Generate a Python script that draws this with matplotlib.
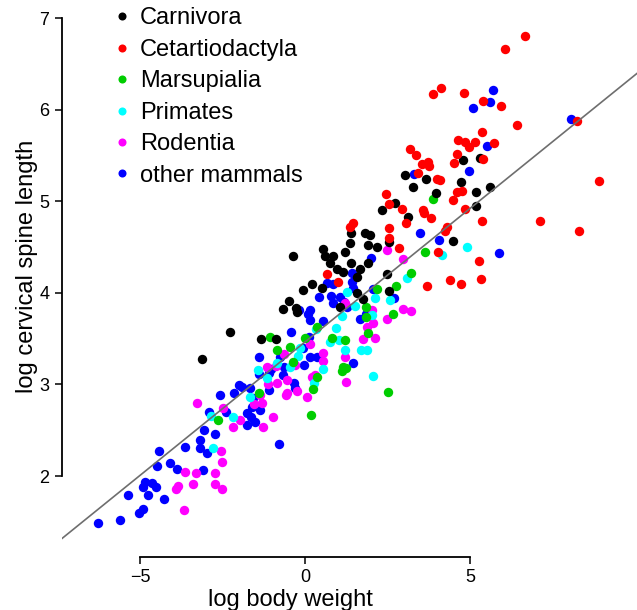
import numpy as np
import matplotlib.pyplot as plt
from matplotlib.lines import Line2D

plt.rcParams['font.family'] = ['Liberation Sans', 'DejaVu Sans']

# (log body weight, log cervical spine length) per group
carnivora = [
    (-0.48, 3.91), (-0.67, 3.82), (-2.27, 3.57), (-0.88, 3.50), (-1.33, 3.50), (-3.12, 3.28),
    (1.39, 4.65), (1.82, 4.65), (1.97, 4.63), (1.36, 4.54), (1.91, 4.52), (2.18, 4.50),
    (2.55, 4.55), (0.55, 4.48), (1.21, 4.45), (-0.36, 4.40), (0.61, 4.40), (0.85, 4.40),
    (0.76, 4.33), (1.39, 4.33), (1.91, 4.33), (0.97, 4.26), (1.15, 4.23), (1.67, 4.26),
    (1.58, 4.17), (2.48, 4.21), (0.21, 4.10), (-0.06, 4.03), (0.52, 4.05), (1.58, 4.00),
    (2.55, 4.02), (1.76, 3.93), (1.06, 3.84), (-0.27, 3.83), (-0.24, 3.79), (4.79, 5.45),
    (5.30, 5.47), (3.03, 5.29), (3.67, 5.24), (4.73, 5.21), (3.27, 5.16), (5.61, 5.16),
    (5.18, 5.10), (3.97, 5.09), (2.73, 4.98), (2.33, 4.90), (5.18, 4.95), (3.12, 4.83),
    (4.48, 4.57),
]
cetartiodactyla = [
    (1.36, 4.72), (1.45, 4.76), (2.55, 4.71), (3.06, 4.76), (3.82, 4.82), (2.55, 4.60),
    (2.85, 4.49), (4.03, 4.45), (0.67, 4.21), (1.00, 4.12), (3.70, 4.07),
    (6.67, 6.80), (6.06, 6.66), (3.88, 6.17), (4.12, 6.24), (4.82, 6.18), (5.39, 6.09),
    (5.94, 6.04), (6.42, 5.83), (5.36, 5.76), (4.64, 5.67), (4.85, 5.65), (5.15, 5.65),
    (4.97, 5.59), (5.73, 5.64), (3.18, 5.57), (3.36, 5.50), (4.61, 5.52), (3.55, 5.41),
    (3.73, 5.43), (3.76, 5.38), (4.52, 5.42), (5.39, 5.46), (3.42, 5.31), (4.00, 5.24),
    (4.09, 5.23), (4.61, 5.10), (4.76, 5.11), (2.45, 5.08), (2.55, 4.97), (2.94, 4.91),
    (4.48, 5.01), (4.85, 4.91), (3.58, 4.90), (3.61, 4.87), (5.36, 4.78),
    (4.30, 4.72), (4.24, 4.67), (5.27, 4.35), (4.39, 4.14), (4.73, 4.10), (5.33, 4.15),
    (7.12, 4.78), (8.30, 4.67), (8.91, 5.22), (8.24, 5.88),
]
marsupialia = [
    (-2.64, 2.61), (-1.06, 3.52), (-0.85, 3.38), (-1.39, 2.91), (3.64, 4.45), (3.21, 4.22),
    (2.76, 4.07), (2.18, 4.04), (1.85, 3.84), (2.67, 3.77), (1.85, 3.74), (0.36, 3.63),
    (0.00, 3.51), (0.82, 3.51), (1.21, 3.48), (1.91, 3.56), (-0.45, 3.41), (1.15, 3.19),
    (1.24, 3.18), (1.12, 3.15), (0.36, 3.08), (0.24, 2.95), (2.52, 2.92), (0.18, 2.67),
    (-0.36, 3.24), (3.88, 5.02),
]
primates = [
    (-2.85, 2.65), (-2.18, 2.64), (-2.79, 2.31), (-0.85, 3.23), (-1.42, 3.16), (-1.15, 3.07),
    (-1.67, 2.86), (-0.45, 3.19), (3.09, 4.16), (1.27, 4.01), (2.12, 3.94), (2.58, 3.92),
    (1.52, 3.86), (2.03, 3.76), (1.12, 3.75), (0.94, 3.62), (0.33, 3.60), (0.76, 3.46),
    (1.03, 3.48), (1.70, 3.38), (1.88, 3.38), (1.21, 3.38), (-0.15, 3.40), (-0.21, 3.31),
    (0.55, 3.17), (2.06, 3.09), (0.27, 3.02), (4.15, 4.41), (4.91, 4.50),
]
rodentia = [
    (-3.27, 2.80), (-2.48, 2.74), (-2.18, 2.53), (-1.97, 2.61), (-2.55, 2.27), (-2.52, 2.15),
    (-3.64, 2.04), (-3.30, 2.03), (-2.73, 2.03), (-3.85, 1.89), (-3.91, 1.86), (-3.39, 1.91),
    (-2.73, 1.91), (-2.52, 1.86), (-3.67, 1.63),
    (-0.64, 3.33), (-1.15, 3.19), (-0.88, 3.20), (-0.85, 3.02), (-0.55, 3.05), (-0.55, 2.91),
    (-1.12, 3.00), (-1.55, 2.79), (-1.30, 2.80), (-1.36, 2.88), (-1.27, 2.53), (-0.97, 2.64),
    (-0.58, 2.88),
    (2.48, 4.47), (2.97, 4.37), (1.21, 3.89), (2.03, 3.81), (2.97, 3.82), (3.21, 3.80),
    (2.48, 3.71), (2.06, 3.67), (1.88, 3.63), (0.15, 3.44), (2.12, 3.51), (1.76, 3.50),
    (0.55, 3.34), (0.55, 3.26), (1.21, 3.30), (-0.30, 3.21), (0.30, 3.10), (1.24, 3.03),
    (0.06, 2.86), (0.21, 3.08), (-0.24, 2.93),
]
other = [
    (-2.00, 2.99), (-1.91, 2.97), (-1.67, 2.96), (-2.58, 2.88), (-2.15, 2.91), (-2.91, 2.70),
    (-2.39, 2.70), (-1.76, 2.69), (-1.76, 2.56), (-3.06, 2.50), (-2.73, 2.46), (-4.42, 2.27),
    (-3.64, 2.32), (-3.18, 2.39), (-3.18, 2.31), (-2.97, 2.25), (-4.48, 2.11), (-4.09, 2.14),
    (-3.88, 2.08), (-3.09, 2.07), (-4.85, 1.93), (-4.64, 1.92), (-4.91, 1.88), (-4.52, 1.88),
    (-4.76, 1.79), (-5.36, 1.79), (-4.27, 1.75), (-4.91, 1.64), (-5.03, 1.60), (-6.27, 1.49),
    (-5.61, 1.52),
    (-0.76, 3.30), (-1.39, 3.30), (-0.64, 3.19), (-1.03, 3.17), (-1.39, 3.11), (-1.09, 3.12),
    (-0.67, 3.10), (-1.09, 2.94), (-1.58, 2.85), (-1.61, 2.75), (-1.36, 2.72), (-1.64, 2.64),
    (-1.52, 2.59), (-0.79, 2.35),
    (3.48, 4.65), (2.00, 4.38), (1.42, 4.22), (0.67, 4.11), (0.85, 4.10), (1.42, 4.12),
    (1.45, 4.05), (0.42, 3.95), (0.79, 3.97), (1.06, 3.95), (2.06, 4.04), (2.70, 3.94),
    (0.85, 3.89), (1.18, 3.90), (1.27, 3.84), (-0.18, 3.81), (0.15, 3.81), (0.09, 3.77),
    (1.85, 3.77), (0.15, 3.70), (1.67, 3.71), (0.55, 3.69), (-0.42, 3.57), (-0.06, 3.40),
    (0.15, 3.30), (0.36, 3.30), (-0.03, 3.21), (1.45, 3.23), (-0.33, 3.02), (-0.30, 2.96),
    (0.12, 3.52), (4.06, 4.58),
    (5.70, 6.21), (5.61, 6.08), (5.09, 6.02), (5.52, 5.60), (4.97, 5.33), (3.30, 5.30),
    (5.88, 4.43), (8.06, 5.90),
]

group_names = ['Carnivora', 'Cetartiodactyla', 'Marsupialia', 'Primates',
               'Rodentia', 'other mammals']
group_data = [carnivora, cetartiodactyla, marsupialia, primates, rodentia, other]
group_colors = ['black', '#ff0000', '#00cd00', '#00ffff', '#ff00ff', '#0000ff']

# fitted line
fit_intercept = 3.464
fit_slope = 0.2914

fig = plt.figure(figsize=(6.37, 6.10), dpi=100)
ax = fig.add_axes([62 / 637, 53 / 610, 575 / 637, 553 / 610])

# draw "other mammals" first, Cetartiodactyla last
for i in [5, 4, 3, 2, 0, 1]:
    pts = np.array(group_data[i])
    ax.scatter(pts[:, 0], pts[:, 1], s=46, color=group_colors[i], linewidths=0, zorder=2)

ax.axline((0, fit_intercept), slope=fit_slope, color='#6e6e6e', lw=1.2, zorder=3)

ax.set_xlim(-7.364, 10.06)
ax.set_ylim(1.116, 7.153)

for side in ['top', 'right']:
    ax.spines[side].set_visible(False)
ax.spines['left'].set_bounds(2, 7)
ax.spines['bottom'].set_bounds(-5, 5)
ax.spines['left'].set_linewidth(1.3)
ax.spines['bottom'].set_linewidth(1.3)

ax.set_xticks([-5, 0, 5])
ax.set_yticks([2, 3, 4, 5, 6, 7])
ax.tick_params(direction='out', length=5, width=1.1, labelsize=13, pad=4)

ax.set_xlabel('log body weight', fontsize=17, labelpad=2)
ax.set_ylabel('log cervical spine length', fontsize=17, labelpad=1)
# labels sit a bit left of / above the axes centre in the original
ax.xaxis.label.set_x(0.398)
ax.yaxis.label.set_y(0.526)

handles = [Line2D([], [], marker='o', linestyle='', color=c, markersize=5.8,
                  markeredgewidth=0) for c in group_colors]
ax.legend(handles, group_names, loc='upper left', bbox_to_anchor=(112.6 / 637, 602.5 / 610),
          bbox_transform=fig.transFigure, frameon=False, fontsize=17,
          handlelength=0.8, handletextpad=0.35, borderpad=0, borderaxespad=0,
          labelspacing=0.4)

fig.savefig('out.png', dpi=100)
